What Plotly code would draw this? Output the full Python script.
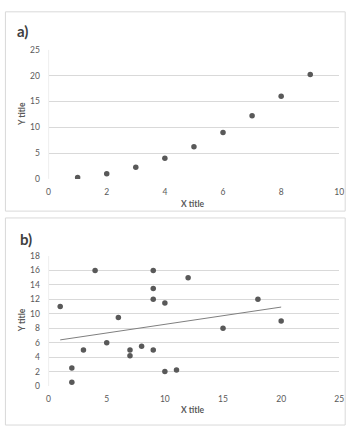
import numpy as np
import plotly.graph_objects as go

# Panel a data
a_x = [1, 2, 3, 4, 5, 6, 7, 8, 9]
a_y = [0.25, 1.0, 2.25, 4.0, 6.25, 9.0, 12.25, 16.0, 20.25]
a_xticks = [0, 2, 4, 6, 8, 10]
a_yticks = [0, 5, 10, 15, 20, 25]

# Panel b data
b_x = [1, 2, 2, 3, 4, 5, 6, 7, 7, 8, 9, 9, 9, 9, 10, 10, 11, 12, 15, 18, 20]
b_y = [11, 2.5, 0.5, 5, 16, 6, 9.5, 5, 4.2, 5.5, 16, 13.5, 12, 5, 11.5, 2, 2.2, 15, 8, 12, 9]
b_xticks = [0, 5, 10, 15, 20, 25]
b_yticks = [0, 2, 4, 6, 8, 10, 12, 14, 16, 18]

W, H = 360, 432
FONT = "Lato, Open Sans, sans-serif"
GRID = "#d9d9d9"
TXT = "#595959"
MK = "#595959"

def px(x):
    return x / W

def py(y):
    return 1 - y / H

slope, icpt = np.polyfit(b_x, b_y, 1)
tx = [min(b_x), max(b_x)]
ty = [icpt + slope * v for v in tx]

fig = go.Figure()
fig.add_trace(go.Scatter(x=a_x, y=a_y, mode="markers", xaxis="x", yaxis="y",
                         marker=dict(color=MK, size=5.5), showlegend=False))
fig.add_trace(go.Scatter(x=b_x, y=b_y, mode="markers", xaxis="x2", yaxis="y2",
                         marker=dict(color=MK, size=5.5), showlegend=False))
fig.add_trace(go.Scatter(x=tx, y=ty, mode="lines", xaxis="x2", yaxis="y2",
                         line=dict(color="#7f7f7f", width=1), showlegend=False))

axis_common = dict(showgrid=True, gridcolor=GRID, gridwidth=1, zeroline=False,
                   showline=False, ticks="outside", tickcolor="rgba(0,0,0,0)",
                   tickfont=dict(family=FONT, size=8.5, color=TXT))
xcommon = {**axis_common, "showgrid": False, "ticklen": 5}
ycommon = {**axis_common, "ticklen": 6}

fig.update_layout(
    width=W, height=H,
    margin=dict(l=0, r=0, t=0, b=0),
    paper_bgcolor="white", plot_bgcolor="white",
    xaxis=dict(domain=[px(47.5), px(344)], range=[0, 10], tickvals=a_xticks,
               anchor="y", **xcommon),
    yaxis=dict(domain=[py(178), py(46)], range=[0, 25], tickvals=a_yticks,
               anchor="x", **ycommon),
    xaxis2=dict(domain=[px(47.5), px(344)], range=[0, 25], tickvals=b_xticks,
                anchor="y2", **xcommon),
    yaxis2=dict(domain=[py(390), py(257)], range=[0, 18], tickvals=b_yticks,
                anchor="x2", **ycommon),
    shapes=[
        dict(type="rect", xref="paper", yref="paper", x0=px(3.5), x1=px(350), y0=py(211), y1=py(7),
             line=dict(color=GRID, width=1)),
        dict(type="rect", xref="paper", yref="paper", x0=px(3.5), x1=px(350), y0=py(430), y1=py(218),
             line=dict(color=GRID, width=1)),
        dict(type="line", xref="x", yref="paper", x0=0, x1=0, y0=py(178), y1=py(46),
             line=dict(color=GRID, width=1)),
        dict(type="line", xref="x2", yref="paper", x0=0, x1=0, y0=py(390), y1=py(257),
             line=dict(color=GRID, width=1)),
    ],
    annotations=[
        dict(text="<b>a)</b>", xref="paper", yref="paper", x=px(13), y=py(27), xanchor="left",
             yanchor="middle", showarrow=False, font=dict(family=FONT, size=15, color="#404040")),
        dict(text="<b>b)</b>", xref="paper", yref="paper", x=px(16), y=py(240), xanchor="left",
             yanchor="middle", showarrow=False, font=dict(family=FONT, size=15, color="#404040")),
        dict(text="<b>X title</b>", xref="paper", yref="paper", x=px(195), y=py(204), xanchor="center",
             yanchor="middle", showarrow=False, font=dict(family=FONT, size=8.5, color=TXT)),
        dict(text="<b>X title</b>", xref="paper", yref="paper", x=px(195), y=py(415), xanchor="center",
             yanchor="middle", showarrow=False, font=dict(family=FONT, size=8.5, color=TXT)),
        dict(text="<b>Y title</b>", xref="paper", yref="paper", x=px(21), y=py(112), xanchor="center",
             yanchor="middle", textangle=-90, showarrow=False, font=dict(family=FONT, size=8.5, color=TXT)),
        dict(text="<b>Y title</b>", xref="paper", yref="paper", x=px(20), y=py(323), xanchor="center",
             yanchor="middle", textangle=-90, showarrow=False, font=dict(family=FONT, size=8.5, color=TXT)),
    ],
)

fig.write_html("out.html")
